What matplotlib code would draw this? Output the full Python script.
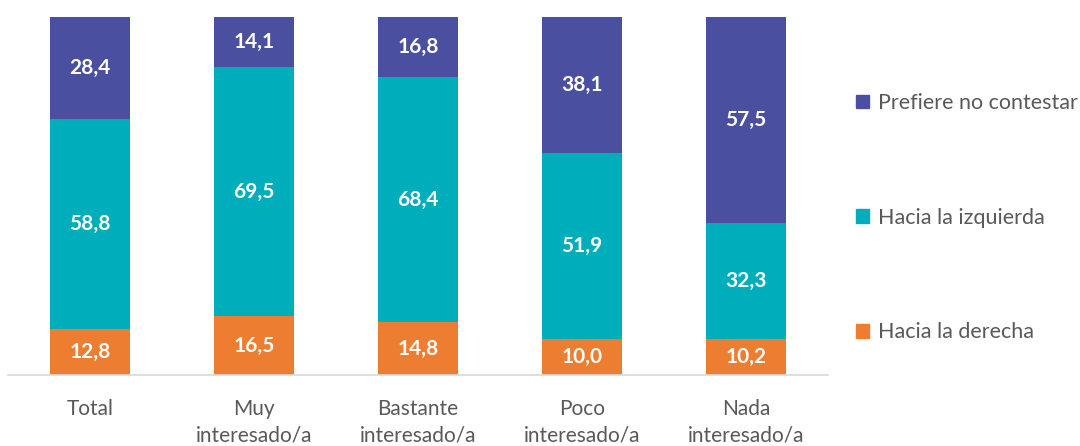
import matplotlib.pyplot as plt
from matplotlib.patches import Patch
import numpy as np

plt.rcParams['font.family'] = ['Lato', 'DejaVu Sans']

categories = ['Total', 'Muy\ninteresado/a', 'Bastante\ninteresado/a',
              'Poco\ninteresado/a', 'Nada\ninteresado/a']
derecha = [12.8, 16.5, 14.8, 10.0, 10.2]
izquierda = [58.8, 69.5, 68.4, 51.9, 32.3]
no_contesta = [28.4, 14.1, 16.8, 38.1, 57.5]

series = [('Hacia la derecha', derecha, '#ED7D31'),
          ('Hacia la izquierda', izquierda, '#00AEBB'),
          ('Prefiere no contestar', no_contesta, '#4A4FA0')]

fig = plt.figure(figsize=(10.8, 4.46), dpi=100)
ax = fig.add_axes([0.0074, 0.159, 0.7593, 0.803])

x = np.arange(len(categories))
bottom = np.zeros(len(categories))
handles = []
for name, vals, col in series:
    vals = np.array(vals)
    ax.bar(x, vals, 0.49, bottom=bottom, color=col)
    for xi, b, v in zip(x, bottom, vals):
        ax.text(xi, b + v / 2, f'{v:.1f}'.replace('.', ','), ha='center', va='center',
                color='white', fontsize=15, fontweight='bold')
    bottom += vals
    handles.append(Patch(color=col, label=name))

ax.set_xlim(-0.5, 4.5)
ax.set_ylim(0, 100)
ax.set_xticks(x)
ax.set_xticklabels(categories, fontsize=15, color='#595959', linespacing=1.45)
ax.tick_params(axis='x', length=0, pad=17)
ax.set_yticks([])
for s in ['top', 'left', 'right']:
    ax.spines[s].set_visible(False)
ax.spines['bottom'].set_color('#D9D9D9')
ax.spines['bottom'].set_linewidth(1.2)

leg = fig.legend(handles=handles[::-1], loc='center left', bbox_to_anchor=(0.775, 0.512),
                 frameon=False, fontsize=15.5, labelspacing=4.4, handlelength=0.6,
                 handleheight=0.6, handletextpad=0.4)
for t in leg.get_texts():
    t.set_color('#595959')

fig.savefig('out.png', dpi=100)
